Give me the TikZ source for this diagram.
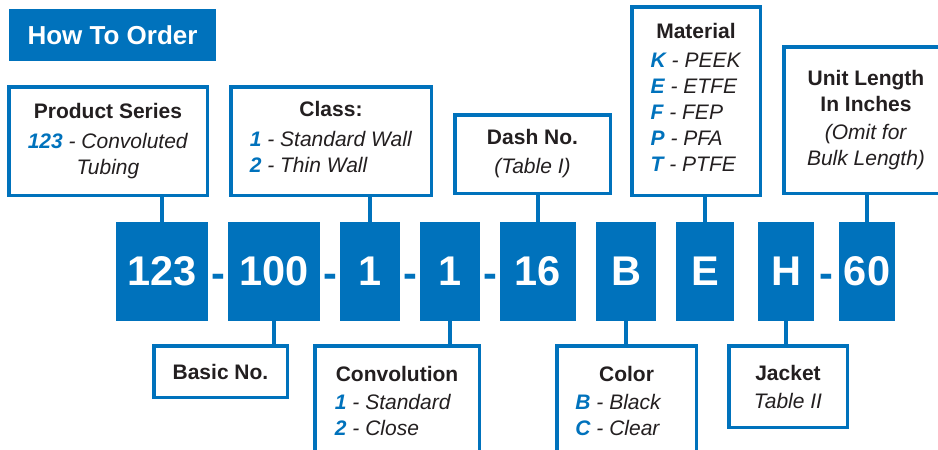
\documentclass[tikz,border=0pt]{standalone}
\usepackage{fontspec}
\setmainfont{Liberation Sans}
\usetikzlibrary{positioning}
\definecolor{ordblue}{HTML}{0072BC}
\definecolor{ordtext}{HTML}{231F20}
\newcommand{\opt}[1]{\textcolor{ordblue}{\bfseries\itshape #1}}

\begin{document}
\begin{tikzpicture}[x=1pt, y=-1pt, node distance=20pt,
    title/.style={fill=ordblue, text=white, inner sep=0, minimum width=207, minimum height=52, font=\bfseries\fontsize{26}{30}\selectfont},
    infobox/.style={draw=ordblue, line width=3.5pt, fill=white, inner sep=0, align=center, text=ordtext, font=\fontsize{21}{26}\selectfont},
    digit/.style={fill=ordblue, text=white, inner sep=0, outer sep=0, minimum height=99, font=\bfseries\fontsize{41.5}{48}\selectfont},
    hyph/.style={text=ordblue, inner sep=0, anchor=base, font=\bfseries\fontsize{41.5}{48}\selectfont},
    link/.style={draw=ordblue, line width=4.5pt}]
    \useasboundingbox (0,0) rectangle (938,450);
    \clip (0,0) rectangle (938,450);

    \node[title] (head) at (112.5,35) {How To Order};

    % part number
    \node[digit, minimum width=92] (d123) at (162,271.5) {123};
    \node[digit, minimum width=92, right=of d123] (d100) {100};
    \node[digit, minimum width=60, right=of d100] (dcls) {1};
    \node[digit, minimum width=60, right=of dcls] (dconv) {1};
    \node[digit, minimum width=76, right=of dconv] (ddash) {16};
    \node[digit, minimum width=60, right=of ddash] (dcol) {B};
    \node[digit, minimum width=58, right=of dcol] (dmat) {E};
    \node[digit, minimum width=56, right=24pt of dmat] (djack) {H};
    \node[digit, minimum width=56, right=25pt of djack] (dlen) {60};

    \node[hyph] (h1) at (218,287) {-};
    \node[hyph] (h2) at (330,287) {-};
    \node[hyph] (h3) at (410,287) {-};
    \node[hyph] (h4) at (490,287) {-};
    \node[hyph] (h5) at (826,287) {-};

    % upper boxes
    \node[infobox, minimum width=198.5, minimum height=108.5] (series) at (108,141)
        {\textbf{Product Series}\\[4pt] \opt{123} \textit{- Convoluted}\\ \textit{Tubing}};
    \node[infobox, minimum width=200.5, minimum height=108.5] (class) at (331,141)
        {\textbf{Class:}\\[4pt] \begin{tabular}[t]{@{}l@{}}\opt{1} \textit{- Standard Wall}\\ \opt{2} \textit{- Thin Wall}\end{tabular}};
    \node[infobox, minimum width=155.5, minimum height=78.5] (dash) at (532.5,154)
        {\textbf{Dash No.}\\[3pt] \textit{(Table I)}};
    \node[infobox, minimum width=128.5, minimum height=188.5] (material) at (696,101)
        {\textbf{Material}\\[3pt] \begin{tabular}[t]{@{}l@{}}\opt{K} \textit{- PEEK}\\ \opt{E} \textit{- ETFE}\\ \opt{F} \textit{- FEP}\\ \opt{P} \textit{- PFA}\\ \opt{T} \textit{- PTFE}\end{tabular}};
    \node[infobox, minimum width=164.5, minimum height=146.5] (length) at (866,120)
        {\textbf{Unit Length}\\ \textbf{In Inches}\\[2pt] \textit{(Omit for}\\ \textit{Bulk Length)}};

    % lower boxes
    \node[infobox, minimum width=133.5, minimum height=51.5] (basic) at (220.5,371.5)
        {\textbf{Basic No.}};
    \node[infobox, minimum width=164.5, minimum height=118.5] (convo) at (397,405)
        {\textbf{Convolution}\\[2pt] \begin{tabular}[t]{@{}l@{}}\opt{1} \textit{- Standard}\\ \opt{2} \textit{- Close}\end{tabular}\hspace*{8pt}};
    \node[infobox, minimum width=139.5, minimum height=118.5] (color) at (626.5,405)
        {\textbf{Color}\\[2pt] \begin{tabular}[t]{@{}l@{}}\opt{B} \textit{- Black}\\ \opt{C} \textit{- Clear}\end{tabular}\hspace*{16pt}};
    \node[infobox, minimum width=118.5, minimum height=81.5] (jacket) at (788,386.5)
        {\textbf{Jacket}\\[2pt] \textit{Table II}};

    % links
    \draw[link] (d123.north) -- (d123.north |- series.south);
    \draw[link] (dcls.north) -- (dcls.north |- class.south);
    \draw[link] (ddash.north) -- (ddash.north |- dash.south);
    \draw[link] (dmat.north) -- (dmat.north |- material.south);
    \draw[link] (dlen.north) -- (dlen.north |- length.south);
    \draw[link] (d100.south) -- (d100.south |- basic.north);
    \draw[link] (dconv.south) -- (dconv.south |- convo.north);
    \draw[link] (dcol.south) -- (dcol.south |- color.north);
    \draw[link] (djack.south) -- (djack.south |- jacket.north);
\end{tikzpicture}
\end{document}
